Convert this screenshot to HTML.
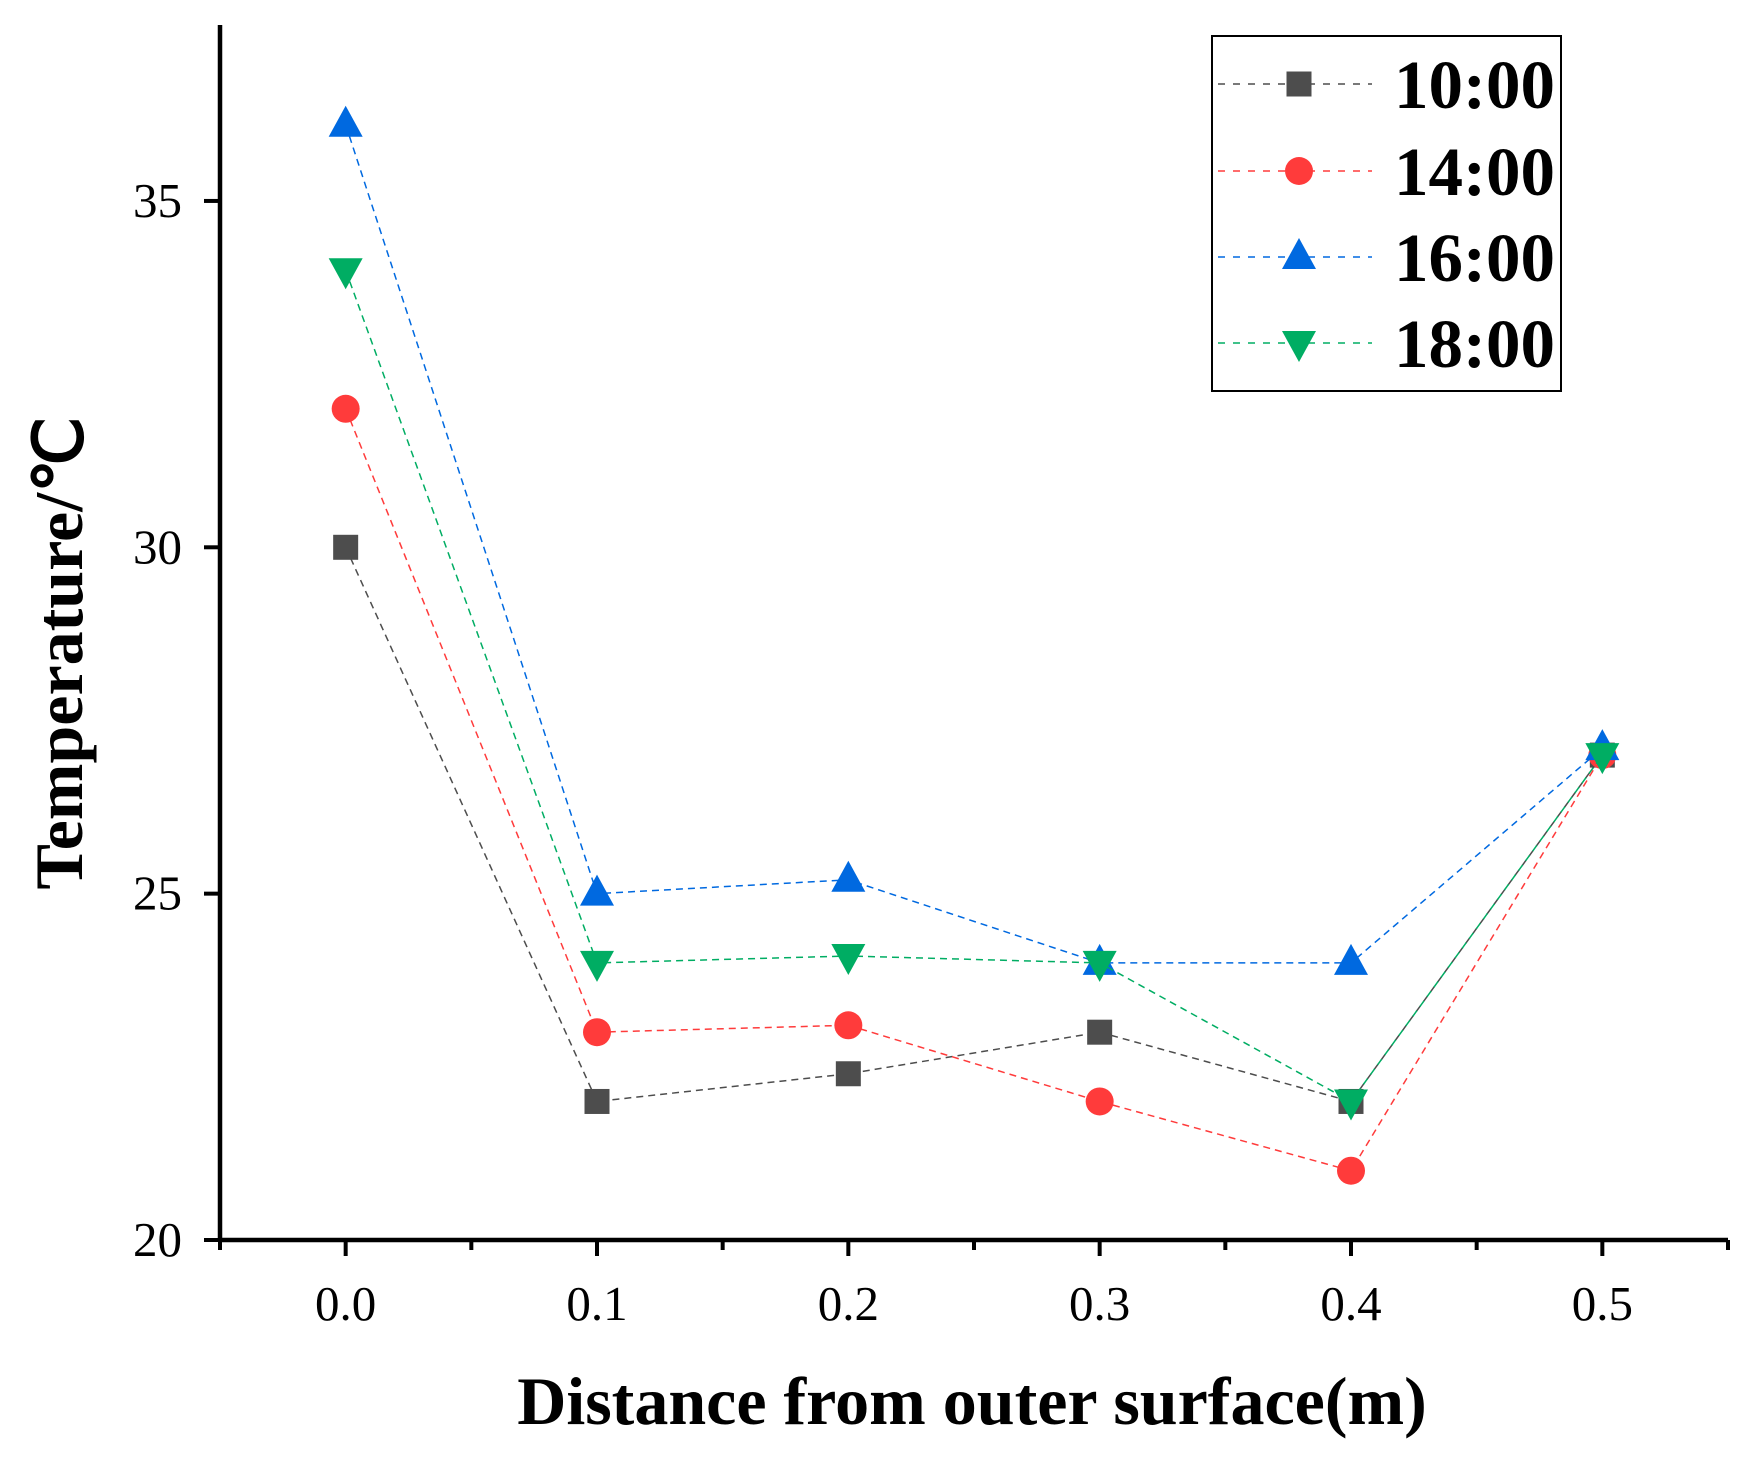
<!DOCTYPE html>
<html><head><meta charset="utf-8"><style>body{margin:0;background:#fff}svg{display:block}</style></head>
<body>
<svg id="chart" width="1759" height="1458" viewBox="0 0 1759 1458" xmlns="http://www.w3.org/2000/svg" font-family="Liberation Serif, serif">
<g id="axes"></g>
<g id="series"></g>
<g id="legend">
<rect x="1212" y="36" width="349" height="355" fill="#fff" stroke="#000" stroke-width="2"/>
</g>
<text x="972" y="1424" font-size="68" font-weight="bold" text-anchor="middle">Distance from outer surface(m)</text>
<text transform="translate(82,653) rotate(-90)" font-size="68" font-weight="bold" text-anchor="middle">Temperature/℃</text>
</svg>
<script>
const xValues=[0,0.1,0.2,0.3,0.4,0.5];
const xTickLabels=["0.0","0.1","0.2","0.3","0.4","0.5"];
const yTicks=[20,25,30,35];
const seriesNames=["10:00","14:00","16:00","18:00"];
const s1000=[30,22,22.4,23,22,27];
const s1400=[32,23,23.1,22,21,27];
const s1600=[36.1,25,25.2,24,24,27.1];
const s1800=[34,24,24.1,24,22,27];

const NS="http://www.w3.org/2000/svg";
const X0=220,X1=1728,Y0=1240,YT=25;
const xMin=-0.05,xMax=0.55,yMin=20,yMax=37.54;
const sx=v=>X0+(v-xMin)/(xMax-xMin)*(X1-X0);
const sy=v=>Y0-(v-yMin)/(yMax-yMin)*(Y0-YT);
function mk(t,a,p){const e=document.createElementNS(NS,t);for(const k in a)e.setAttribute(k,a[k]);p.appendChild(e);return e;}
const axes=document.getElementById('axes');
let e=mk('line',{x1:X0,y1:YT,x2:X0,y2:Y0+2,stroke:'#000','stroke-width':4.5},axes);


e=mk('line',{x1:X0-2,y1:Y0,x2:X1,y2:Y0,stroke:'#000','stroke-width':4.5},axes);


for(let i=-1;i<=11;i++){const v=i*0.05;const x=sx(v);const maj=i%2===0;
 e=mk('line',{x1:x,y1:Y0,x2:x,y2:Y0+(maj?16:10),stroke:'#000','stroke-width':4},axes);
 
 }
xValues.forEach((v,i)=>{e=mk('text',{x:sx(v),y:1320,'font-size':49,'text-anchor':'middle'},axes);e.textContent=xTickLabels[i];
 
 });
yTicks.forEach(v=>{const y=sy(v);
 e=mk('line',{x1:X0-16,y1:y,x2:X0,y2:y,stroke:'#000','stroke-width':4},axes);
 
 
 e=mk('text',{x:182,y:y+16,'font-size':49,'text-anchor':'end'},axes);e.textContent=v;
 
 });
const colors=["#4d4d4d","#ff3b3b","#0069e0","#00ad63"];
const shapes=["square","circle","up","down"];
const all=[s1000,s1400,s1600,s1800];
function marker(g,shape,x,y,c){let m;
 if(shape==='square')m=mk('rect',{x:x-12.5,y:y-12.5,width:25,height:25,fill:c},g);
 else if(shape==='circle')m=mk('circle',{cx:x,cy:y,r:14,fill:c},g);
 else if(shape==='up')m=mk('polygon',{points:`${x},${y-19} ${x-17},${y+12} ${x+17},${y+12}`,fill:c},g);
 else m=mk('polygon',{points:`${x},${y+19} ${x-17},${y-12} ${x+17},${y-12}`,fill:c},g);
 return m;}
const sg=document.getElementById('series');
all.forEach((d,k)=>{const g=mk('g',{},sg);
 
 
 const pl=mk('polyline',{points:d.map((v,i)=>sx(xValues[i])+','+sy(v)).join(' '),fill:'none',stroke:colors[k],'stroke-width':1.5,'stroke-dasharray':'7,5'},g);
 
 
 d.forEach((v,i)=>{const m=marker(g,shapes[k],sx(xValues[i]),sy(v),colors[k]);
  
  });});
const lg=document.getElementById('legend');
const rowY=[84,171,257,343];
seriesNames.forEach((n,k)=>{const g=mk('g',{},lg);
 
 
 mk('line',{x1:1218,y1:rowY[k],x2:1372,y2:rowY[k],stroke:colors[k],'stroke-width':1.5,'stroke-dasharray':'7,8'},g);
 marker(g,shapes[k],1299,rowY[k],colors[k]);
 const t=mk('text',{x:1394,y:rowY[k]+24,'font-size':69,'font-weight':'bold'},g);t.textContent=n;});
</script>
</body></html>
